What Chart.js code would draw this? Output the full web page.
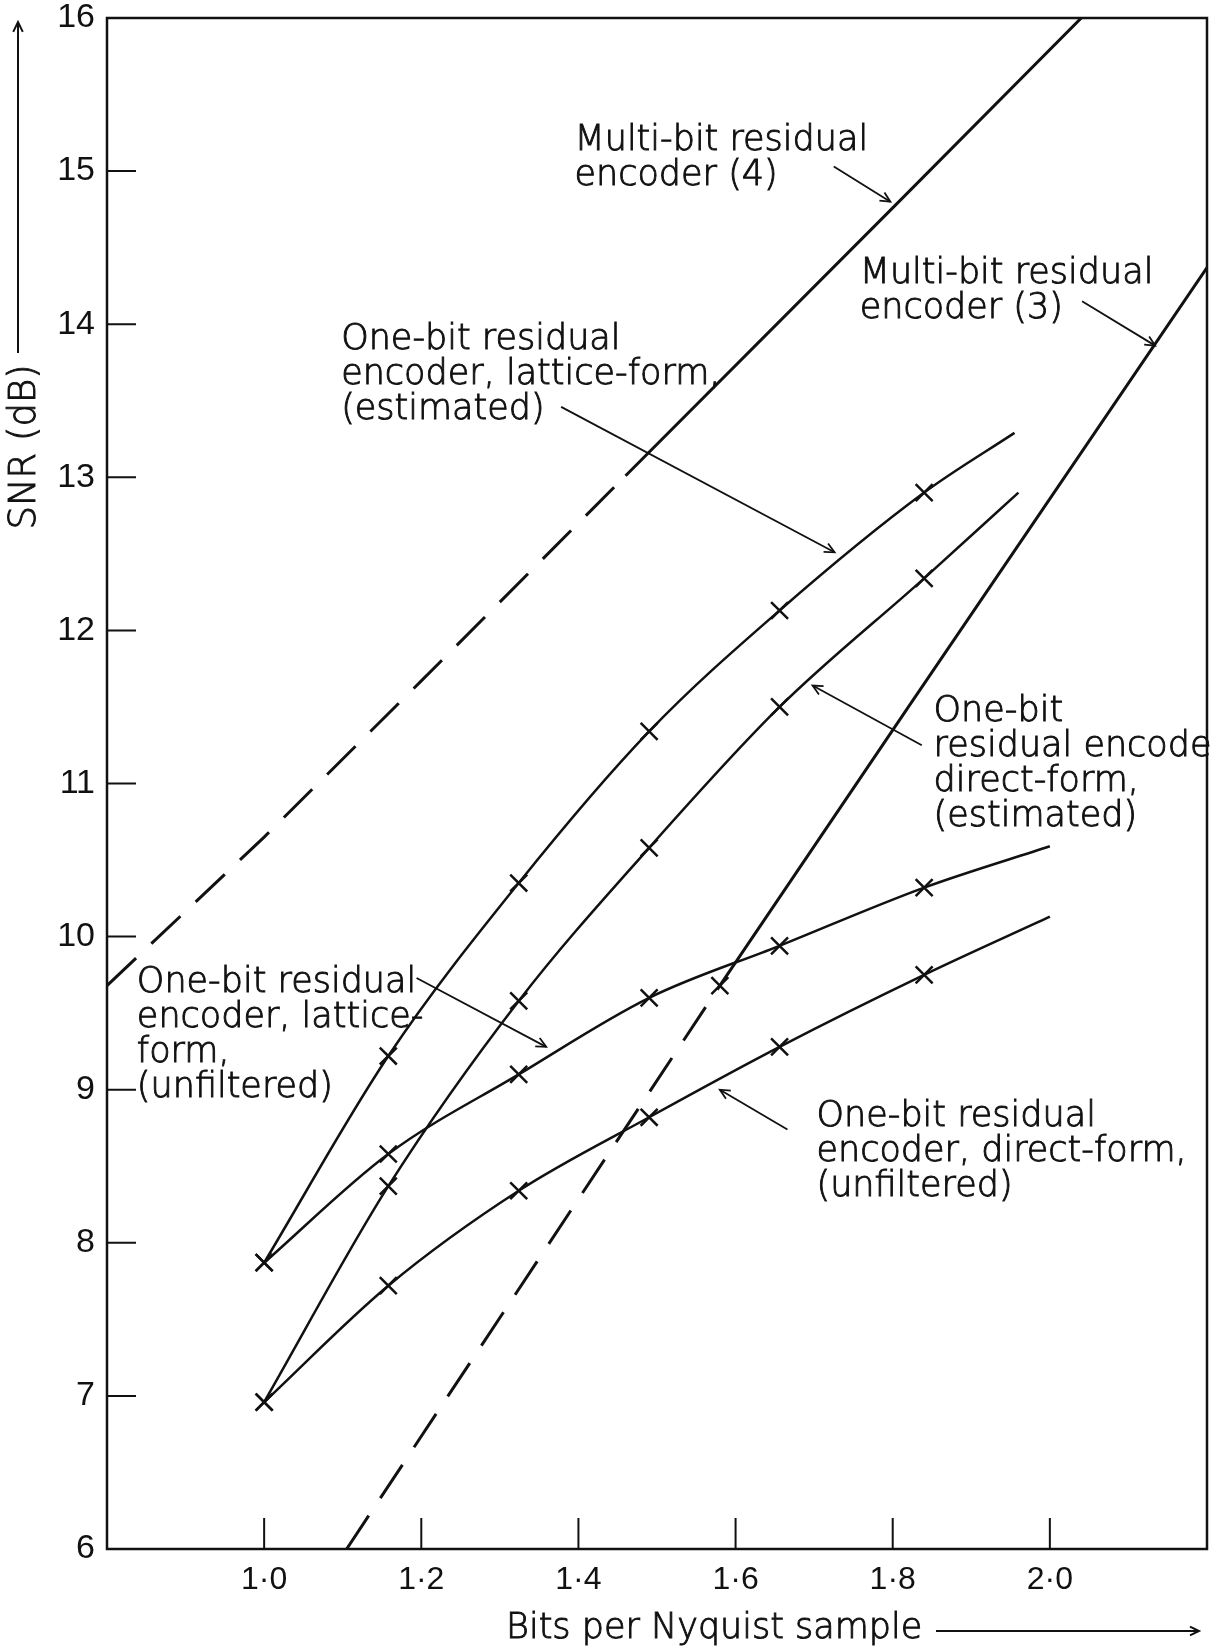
<!DOCTYPE html>
<html>
<head>
<meta charset="utf-8">
<script src="https://cdn.jsdelivr.net/npm/chart.js@4.4.1/dist/chart.umd.min.js"></script>
<style>
  html, body { margin: 0; padding: 0; background: #fff; }
  canvas { display: block; }
</style>
</head>
<body>
<canvas id="snrChart" width="1212" height="1649"></canvas>
<script>
// axis ticks
const xTickValues = [1.0, 1.2, 1.4, 1.6, 1.8, 2.0];
const xTickLabels = ['1·0', '1·2', '1·4', '1·6', '1·8', '2·0'];
const yTickValues = [6, 7, 8, 9, 10, 11, 12, 13, 14, 15, 16];

// one-bit encoders: measured points (X) plus the curve end (no marker)
const latticeEstX = [1.0, 1.158, 1.324, 1.49, 1.656, 1.84, 1.955];
const latticeEstY = [7.87, 9.22, 10.35, 11.34, 12.13, 12.9, 13.29];

const directEstX = [1.0, 1.158, 1.324, 1.49, 1.656, 1.84, 1.96];
const directEstY = [6.96, 8.37, 9.58, 10.58, 11.5, 12.34, 12.9];

const latticeUnfX = [1.0, 1.158, 1.324, 1.49, 1.656, 1.84, 2.0];
const latticeUnfY = [7.87, 8.58, 9.1, 9.6, 9.94, 10.32, 10.59];

const directUnfX = [1.0, 1.158, 1.324, 1.49, 1.656, 1.84, 2.0];
const directUnfY = [6.96, 7.72, 8.34, 8.82, 9.28, 9.75, 10.13];

// multi-bit encoders (dashed below the given bit rate, solid above)
const multi4X = [0.8, 1.0, 1.2, 1.46, 1.8, 2.04];
const multi4Y = [9.68, 10.65, 11.67, 13.01, 14.76, 16.0];
const multi4DashedUntil = 1.46;

const multi3X = [1.105, 1.58, 1.82, 2.2];
const multi3Y = [6.0, 9.68, 11.5, 14.37];
const multi3MarkerAt = 1.58;
const multi3DashedUntil = 1.58;

const INK = '#111';
const textFont = '200 35px "DejaVu Sans"';

function toPoints(xs, ys) {
  return xs.map((x, i) => ({ x: x, y: ys[i] }));
}

function oneBit(xs, ys) {
  return {
    data: toPoints(xs, ys),
    borderColor: INK,
    borderWidth: 2.5,
    cubicInterpolationMode: 'monotone',
    pointStyle: 'crossRot',
    pointRadius: xs.map((x, i) => (i === xs.length - 1 ? 0 : 12)),
    pointBorderColor: INK,
    pointBorderWidth: 2.5,
    pointBackgroundColor: 'transparent'
  };
}

function multiBit(xs, ys, dashedUntil, markerAt) {
  return {
    data: toPoints(xs, ys),
    borderColor: INK,
    borderWidth: 3,
    tension: 0,
    pointStyle: 'crossRot',
    pointRadius: xs.map(x => (x === markerAt ? 12 : 0)),
    pointBorderColor: INK,
    pointBorderWidth: 2.5,
    segment: {
      borderDash: ctx => (ctx.p1.parsed.x <= dashedUntil ? [40, 21] : undefined)
    }
  };
}

// labels and their leader arrows, in data units
const notes = [
  { lines: ['Multi-bit residual', 'encoder (4)'], x: 1.395, y: 15.20, from: [1.725, 15.03], to: [1.797, 14.80] },
  { lines: ['Multi-bit residual', 'encoder (3)'], x: 1.758, y: 14.33, from: [2.041, 14.15], to: [2.134, 13.86] },
  { lines: ['One-bit residual', 'encoder, lattice-form,', '(estimated)'], x: 1.098, y: 13.90, from: [1.378, 13.46], to: [1.726, 12.51] },
  { lines: ['One-bit', 'residual encoder,', 'direct-form,', '(estimated)'], x: 1.852, y: 11.47, from: [1.837, 11.25], to: [1.698, 11.64] },
  { lines: ['One-bit residual', 'encoder, lattice-', 'form,', '(unfiltered)'], x: 0.838, y: 9.70, from: [1.194, 9.73], to: [1.359, 9.28] },
  { lines: ['One-bit residual', 'encoder, direct-form,', '(unfiltered)'], x: 1.703, y: 8.82, from: [1.666, 8.74], to: [1.580, 9.0] }
];

function arrowHead(ctx, x0, y0, x1, y1, size) {
  const a = Math.atan2(y1 - y0, x1 - x0);
  ctx.beginPath();
  ctx.moveTo(x1 - size * Math.cos(a - 0.45), y1 - size * Math.sin(a - 0.45));
  ctx.lineTo(x1, y1);
  ctx.lineTo(x1 - size * Math.cos(a + 0.45), y1 - size * Math.sin(a + 0.45));
  ctx.stroke();
}

// light face, thickened a little to look like the printed lettering
function inkText(ctx, text, x, y) {
  ctx.fillText(text, x, y);
  ctx.lineWidth = 0.9;
  ctx.strokeText(text, x, y);
}

const decorations = {
  id: 'decorations',
  afterDraw(chart) {
    const ctx = chart.ctx;
    const area = chart.chartArea;
    const xs = chart.scales.x;
    const ys = chart.scales.y;
    ctx.save();
    ctx.strokeStyle = INK;
    ctx.fillStyle = INK;

    // frame
    ctx.lineWidth = 2.5;
    ctx.strokeRect(area.left, area.top, area.right - area.left, area.bottom - area.top);

    // inward tick marks
    ctx.lineWidth = 2;
    ctx.beginPath();
    xTickValues.forEach(v => {
      const px = xs.getPixelForValue(v);
      ctx.moveTo(px, area.bottom);
      ctx.lineTo(px, area.bottom - 31);
    });
    yTickValues.slice(1, -1).forEach(v => {
      const py = ys.getPixelForValue(v);
      ctx.moveTo(area.left, py);
      ctx.lineTo(area.left + 29, py);
    });
    ctx.stroke();

    // annotations
    ctx.font = textFont;
    ctx.textAlign = 'left';
    ctx.textBaseline = 'middle';
    notes.forEach(n => {
      const tx = xs.getPixelForValue(n.x);
      const ty = ys.getPixelForValue(n.y);
      n.lines.forEach((line, i) => inkText(ctx, line, tx, ty + i * 35));
      const x0 = xs.getPixelForValue(n.from[0]);
      const y0 = ys.getPixelForValue(n.from[1]);
      const x1 = xs.getPixelForValue(n.to[0]);
      const y1 = ys.getPixelForValue(n.to[1]);
      ctx.lineWidth = 1.8;
      ctx.beginPath();
      ctx.moveTo(x0, y0);
      ctx.lineTo(x1, y1);
      ctx.stroke();
      arrowHead(ctx, x0, y0, x1, y1, 11);
    });

    // x axis title with arrow
    ctx.font = '200 35px "DejaVu Sans"';
    inkText(ctx, 'Bits per Nyquist sample', 506, 1629);
    ctx.lineWidth = 2;
    ctx.beginPath();
    ctx.moveTo(936, 1631);
    ctx.lineTo(1199, 1631);
    ctx.stroke();
    arrowHead(ctx, 936, 1631, 1199, 1631, 10);

    // y axis title with arrow
    ctx.save();
    ctx.translate(25, 447);
    ctx.rotate(-Math.PI / 2);
    ctx.textAlign = 'center';
    ctx.font = '200 37px "DejaVu Sans"';
    inkText(ctx, 'SNR (dB)', 0, 0);
    ctx.restore();
    ctx.lineWidth = 2;
    ctx.beginPath();
    ctx.moveTo(18, 353);
    ctx.lineTo(18, 22);
    ctx.stroke();
    arrowHead(ctx, 18, 353, 18, 22, 11);

    ctx.restore();
  }
};

new Chart(document.getElementById('snrChart'), {
  type: 'line',
  data: {
    datasets: [
      multiBit(multi4X, multi4Y, multi4DashedUntil, null),
      multiBit(multi3X, multi3Y, multi3DashedUntil, multi3MarkerAt),
      oneBit(latticeEstX, latticeEstY),
      oneBit(directEstX, directEstY),
      oneBit(latticeUnfX, latticeUnfY),
      oneBit(directUnfX, directUnfY)
    ]
  },
  options: {
    responsive: false,
    animation: false,
    layout: { autoPadding: false, padding: { top: 18, right: 5, left: 0, bottom: 0 } },
    plugins: { legend: { display: false }, tooltip: { enabled: false } },
    scales: {
      x: {
        type: 'linear',
        min: 0.8,
        max: 2.2,
        afterFit: s => {
          s.height = 100;
          s.paddingLeft = 0;
          s.paddingRight = 0;
        },
        afterBuildTicks: s => { s.ticks = xTickValues.map(v => ({ value: v })); },
        ticks: {
          callback: (v, i) => xTickLabels[i],
          autoSkip: false,
          maxRotation: 0,
          padding: 12,
          color: INK,
          font: { family: '"Liberation Sans"', size: 32 }
        },
        grid: { display: false, drawTicks: false },
        border: { display: false }
      },
      y: {
        type: 'linear',
        min: 6,
        max: 16,
        afterFit: s => {
          s.width = 107;
          s.paddingTop = 0;
          s.paddingBottom = 0;
        },
        afterBuildTicks: s => { s.ticks = yTickValues.map(v => ({ value: v })); },
        ticks: {
          autoSkip: false,
          padding: 12,
          color: INK,
          font: { family: '"Liberation Sans"', size: 34 }
        },
        grid: { display: false, drawTicks: false },
        border: { display: false }
      }
    }
  },
  plugins: [decorations]
});
</script>
</body>
</html>
